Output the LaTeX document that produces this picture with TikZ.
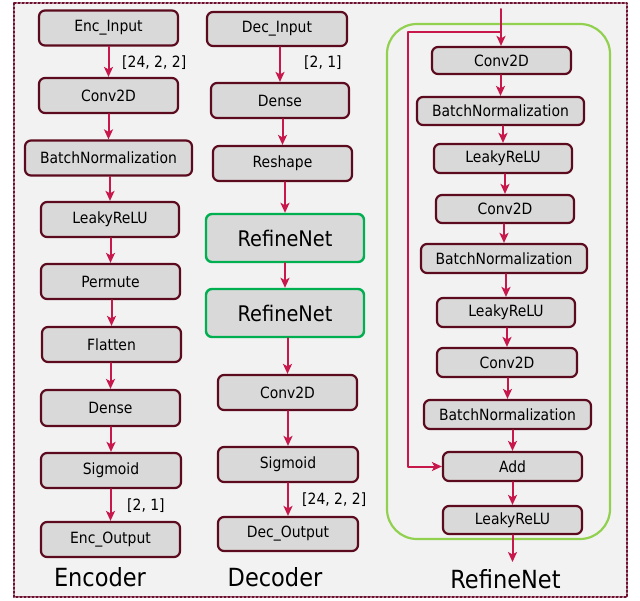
\documentclass[tikz,border=0pt]{standalone}
\usepackage{fontspec}
\setmainfont{DejaVu Sans Condensed}
\usetikzlibrary{arrows.meta}
\definecolor{layerfill}{HTML}{D9D9D9}
\definecolor{layerdraw}{HTML}{5C0A1E}
\definecolor{flowred}{HTML}{C8174B}
\definecolor{refgreen}{HTML}{00B050}
\definecolor{framegreen}{HTML}{92D050}
\definecolor{panelgray}{HTML}{F2F2F2}
\definecolor{dotred}{HTML}{6E1030}
\begin{document}
\begin{tikzpicture}[line cap=round,line join=round,>={Stealth[length=10pt,width=9pt,inset=2.5pt]},x=1pt,y=-1pt,
  layer/.style={draw=layerdraw,line width=2.2pt,fill=layerfill,rounded corners=6pt,inner sep=0pt,font=\fontsize{15.5}{18}\selectfont},
  refblock/.style={layer,draw=refgreen,line width=2.4pt,font=\fontsize{21.5}{25}\selectfont},
  flow/.style={->,draw=flowred,line width=2pt},
  shape label/.style={anchor=west,inner sep=0pt,font=\fontsize{15.5}{18}\selectfont},
  title/.style={inner sep=0pt,font=\fontsize{25}{30}\selectfont}]
\useasboundingbox (0,0) rectangle (640,600);
\fill[white] (0,0) rectangle (640,600);
\draw[dotted,line width=2pt,draw=dotred,fill=panelgray] (14,3) rectangle (627,597);
% Encoder
\node[layer,minimum width=139pt,minimum height=35pt] (ein) at (108.5,28) {Enc\_Input};
\node[layer,minimum width=139pt,minimum height=35pt] (econv) at (108.5,95.5) {Conv2D};
\node[layer,minimum width=167pt,minimum height=35pt] (ebn) at (108.5,158) {BatchNormalization};
\node[layer,minimum width=138pt,minimum height=35pt] (elrelu) at (110,219.5) {LeakyReLU};
\node[layer,minimum width=139pt,minimum height=35pt] (eperm) at (110.5,281.5) {Permute};
\node[layer,minimum width=139pt,minimum height=35pt] (eflat) at (111.5,344.5) {Flatten};
\node[layer,minimum width=139pt,minimum height=36pt] (edense) at (110.5,408) {Dense};
\node[layer,minimum width=140pt,minimum height=35pt] (esig) at (111,470.5) {Sigmoid};
\node[layer,minimum width=139pt,minimum height=35pt] (eout) at (110.5,539.5) {Enc\_Output};
\foreach \a/\b in {ein/econv,econv/ebn,ebn/elrelu,elrelu/eperm,eperm/eflat,eflat/edense,edense/esig,esig/eout}
  \draw[flow] (\a.south -| \b) -- (\b.north);
\node[shape label] (eshapein) at (122,63) {[24, 2, 2]};
\node[shape label] (eshapeout) at (127,506) {[2, 1]};
\node[title] (enctitle) at (100,577) {Encoder};
% Decoder
\node[layer,minimum width=140pt,minimum height=34pt] (din) at (277,29) {Dec\_Input};
\node[layer,minimum width=138pt,minimum height=35pt] (ddense) at (280,100.5) {Dense};
\node[layer,minimum width=139pt,minimum height=35pt] (dresh) at (282.5,163.5) {Reshape};
\node[refblock,minimum width=158pt,minimum height=48pt] (dref1) at (285,238) {RefineNet};
\node[refblock,minimum width=158pt,minimum height=48pt] (dref2) at (285,313) {RefineNet};
\node[layer,minimum width=139pt,minimum height=35pt] (dconv) at (287.5,392.5) {Conv2D};
\node[layer,minimum width=140pt,minimum height=35pt] (dsig) at (288,464.5) {Sigmoid};
\node[layer,minimum width=140pt,minimum height=34pt] (dout) at (288,534) {Dec\_Output};
\foreach \a/\b in {din/ddense,ddense/dresh,dresh/dref1,dref1/dref2,dref2/dconv,dconv/dsig,dsig/dout}
  \draw[flow] (\a.south -| \b) -- (\b.north);
\node[shape label] (dshapein) at (304,63) {[2, 1]};
\node[shape label] (dshapeout) at (302,500) {[24, 2, 2]};
\node[title] (dectitle) at (275,577) {Decoder};
% RefineNet block
\draw[framegreen,line width=2.2pt,rounded corners=30pt] (387,24) rectangle (610,539);
\node[layer,minimum width=139pt,minimum height=27pt] (rconva) at (501.5,60.5) {Conv2D};
\node[layer,minimum width=167pt,minimum height=28pt] (rbna) at (500.5,111) {BatchNormalization};
\node[layer,minimum width=138pt,minimum height=29pt] (rlra) at (503,158.5) {LeakyReLU};
\node[layer,minimum width=138pt,minimum height=28pt] (rconvb) at (505,209) {Conv2D};
\node[layer,minimum width=166pt,minimum height=29pt] (rbnb) at (504,258.5) {BatchNormalization};
\node[layer,minimum width=138pt,minimum height=29pt] (rlrb) at (506,312.5) {LeakyReLU};
\node[layer,minimum width=140pt,minimum height=29pt] (rconvc) at (507,362.5) {Conv2D};
\node[layer,minimum width=167pt,minimum height=29pt] (rbnc) at (507.5,414.5) {BatchNormalization};
\node[layer,minimum width=139pt,minimum height=29pt] (radd) at (512.5,466.5) {Add};
\node[layer,minimum width=139pt,minimum height=28pt] (rlrc) at (512.5,520) {LeakyReLU};
\foreach \a/\b in {rconva/rbna,rbna/rlra,rlra/rconvb,rconvb/rbnb,rbnb/rlrb,rlrb/rconvc,rconvc/rbnc,rbnc/radd,radd/rlrc}
  \draw[flow] (\a.south -| \b) -- (\b.north);
\coordinate (rin) at (501,9);
\coordinate (rsplit) at (501,32);
\coordinate (rskip) at (408,32);
\coordinate (rout) at (512.5,562);
\draw[flow] (rin) -- (rconva.north -| rin);
\draw[flow] (rsplit) -- (rskip) |- (radd.west);
\draw[flow] (rlrc.south) -- (rout);
\node[title] (reftitle) at (505.5,579) {RefineNet};
\end{tikzpicture}
\end{document}
